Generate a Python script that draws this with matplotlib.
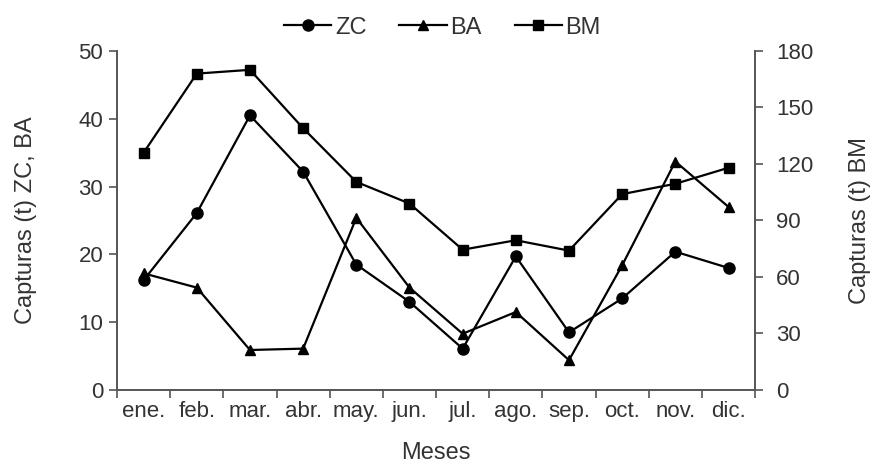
import numpy as np
import matplotlib.pyplot as plt

plt.rcParams['font.family'] = ['Liberation Sans', 'DejaVu Sans']

meses = ['ene.', 'feb.', 'mar.', 'abr.', 'may.', 'jun.',
         'jul.', 'ago.', 'sep.', 'oct.', 'nov.', 'dic.']
zc = [16.2, 26.1, 40.5, 32.2, 18.5, 13.0, 6.1, 19.7, 8.5, 13.5, 20.4, 18.0]
ba = [17.2, 15.1, 5.9, 6.1, 25.4, 15.1, 8.3, 11.5, 4.4, 18.4, 33.7, 27.0]
bm = [126, 168, 170, 139, 110.5, 99, 74.5, 79.5, 74, 104, 109.5, 118]

txt = '#333333'
spine = '#555555'

fig = plt.figure(figsize=(8.76, 4.67), dpi=100)
ax = fig.add_axes([0.1336, 0.1649, 0.7284, 0.7259])
ax2 = ax.twinx()

x = np.arange(len(meses)) + 0.5
l1, = ax.plot(x, zc, '-o', color='black', lw=1.6, ms=8, label='ZC')
l2, = ax.plot(x, ba, '-^', color='black', lw=1.6, ms=7, label='BA')
l3, = ax2.plot(x, bm, '-s', color='black', lw=1.6, ms=6.5, label='BM')

ax.set_xlim(0, 12)
ax.set_ylim(0, 50)
ax2.set_ylim(0, 180)
ax.set_yticks(range(0, 51, 10))
ax2.set_yticks(range(0, 181, 30))
ax.set_xticks(range(0, 13))
ax.set_xticklabels([])
ax.set_xticks(x, minor=True)
ax.set_xticklabels(meses, minor=True)
ax.tick_params(axis='x', which='minor', length=0, pad=10)
ax.tick_params(axis='x', which='major', length=6, width=1.2, color=spine)

for a in (ax, ax2):
    a.spines['top'].set_visible(False)
    for s in a.spines.values():
        s.set_color(spine)
        s.set_linewidth(1.2)
    a.tick_params(axis='y', length=6, width=1.2, color=spine,
                  labelsize=16, labelcolor=txt, pad=4)
ax2.tick_params(axis='y', pad=9)
ax.tick_params(axis='x', which='minor', labelsize=16, labelcolor=txt, pad=8)

ax.set_ylabel('Capturas (t) ZC, BA', fontsize=17, color=txt, labelpad=30)
ax2.set_ylabel('Capturas (t) BM', fontsize=17, color=txt, labelpad=26)
ax.set_xlabel('Meses', fontsize=17, color=txt, labelpad=14)

fig.legend(handles=[l1, l2, l3], loc='upper center', bbox_to_anchor=(0.505, 1.01),
           ncol=3, frameon=False, fontsize=17, handlelength=2.0,
           columnspacing=1.4, handletextpad=0.15, labelcolor=txt)

fig.savefig('out.png', dpi=100)
